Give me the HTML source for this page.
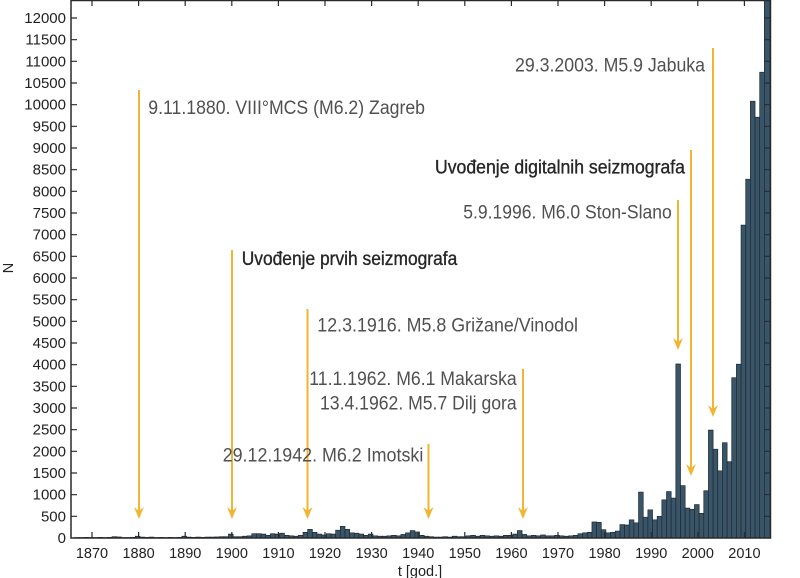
<!DOCTYPE html>
<html>
<head>
<meta charset="utf-8">
<style>
  html,body{margin:0;padding:0;background:#fff;}
  svg{display:block;}
  .ax{font-family:"Liberation Sans",Arial,sans-serif;font-size:15px;fill:#222;}
  .an{font-family:"Liberation Sans",Arial,sans-serif;font-size:19px;fill:#505050;}
  .ad{font-family:"Liberation Sans",Arial,sans-serif;font-size:19px;fill:#262626;stroke:#262626;stroke-width:0.35;}
</style>
</head>
<body>
<svg width="800" height="578" viewBox="0 0 800 578" xmlns="http://www.w3.org/2000/svg">
  <defs>
    <clipPath id="pa"><rect x="71" y="0" width="699" height="538"/></clipPath>
  </defs>
  <rect x="0" y="0" width="800" height="578" fill="#fff"/>

  <!-- bars -->
  <g clip-path="url(#pa)">
  <g transform="translate(88.67,538) scale(4.66,-0.0433333)" fill="#3a5468" stroke="#1d2a35" stroke-width="0.7">
    <rect vector-effect="non-scaling-stroke" x="-3" width="1" height="10"/>
    <rect vector-effect="non-scaling-stroke" x="-2" width="1" height="10"/>
    <rect vector-effect="non-scaling-stroke" x="-1" width="1" height="15"/>
    <rect vector-effect="non-scaling-stroke" x="0" width="1" height="10"/>
    <rect vector-effect="non-scaling-stroke" x="1" width="1" height="10"/>
    <rect vector-effect="non-scaling-stroke" x="2" width="1" height="15"/>
    <rect vector-effect="non-scaling-stroke" x="3" width="1" height="10"/>
    <rect vector-effect="non-scaling-stroke" x="4" width="1" height="15"/>
    <rect vector-effect="non-scaling-stroke" x="5" width="1" height="30"/>
    <rect vector-effect="non-scaling-stroke" x="6" width="1" height="25"/>
    <rect vector-effect="non-scaling-stroke" x="7" width="1" height="10"/>
    <rect vector-effect="non-scaling-stroke" x="8" width="1" height="10"/>
    <rect vector-effect="non-scaling-stroke" x="9" width="1" height="15"/>
    <rect vector-effect="non-scaling-stroke" x="10" width="1" height="40"/>
    <rect vector-effect="non-scaling-stroke" x="11" width="1" height="20"/>
    <rect vector-effect="non-scaling-stroke" x="12" width="1" height="15"/>
    <rect vector-effect="non-scaling-stroke" x="13" width="1" height="20"/>
    <rect vector-effect="non-scaling-stroke" x="14" width="1" height="10"/>
    <rect vector-effect="non-scaling-stroke" x="15" width="1" height="15"/>
    <rect vector-effect="non-scaling-stroke" x="16" width="1" height="10"/>
    <rect vector-effect="non-scaling-stroke" x="17" width="1" height="15"/>
    <rect vector-effect="non-scaling-stroke" x="18" width="1" height="10"/>
    <rect vector-effect="non-scaling-stroke" x="19" width="1" height="15"/>
    <rect vector-effect="non-scaling-stroke" x="20" width="1" height="40"/>
    <rect vector-effect="non-scaling-stroke" x="21" width="1" height="20"/>
    <rect vector-effect="non-scaling-stroke" x="22" width="1" height="15"/>
    <rect vector-effect="non-scaling-stroke" x="23" width="1" height="20"/>
    <rect vector-effect="non-scaling-stroke" x="24" width="1" height="15"/>
    <rect vector-effect="non-scaling-stroke" x="25" width="1" height="20"/>
    <rect vector-effect="non-scaling-stroke" x="26" width="1" height="20"/>
    <rect vector-effect="non-scaling-stroke" x="27" width="1" height="25"/>
    <rect vector-effect="non-scaling-stroke" x="28" width="1" height="30"/>
    <rect vector-effect="non-scaling-stroke" x="29" width="1" height="30"/>
    <rect vector-effect="non-scaling-stroke" x="30" width="1" height="90"/>
    <rect vector-effect="non-scaling-stroke" x="31" width="1" height="30"/>
    <rect vector-effect="non-scaling-stroke" x="32" width="1" height="30"/>
    <rect vector-effect="non-scaling-stroke" x="33" width="1" height="40"/>
    <rect vector-effect="non-scaling-stroke" x="34" width="1" height="50"/>
    <rect vector-effect="non-scaling-stroke" x="35" width="1" height="100"/>
    <rect vector-effect="non-scaling-stroke" x="36" width="1" height="100"/>
    <rect vector-effect="non-scaling-stroke" x="37" width="1" height="90"/>
    <rect vector-effect="non-scaling-stroke" x="38" width="1" height="60"/>
    <rect vector-effect="non-scaling-stroke" x="39" width="1" height="100"/>
    <rect vector-effect="non-scaling-stroke" x="40" width="1" height="90"/>
    <rect vector-effect="non-scaling-stroke" x="41" width="1" height="110"/>
    <rect vector-effect="non-scaling-stroke" x="42" width="1" height="60"/>
    <rect vector-effect="non-scaling-stroke" x="43" width="1" height="50"/>
    <rect vector-effect="non-scaling-stroke" x="44" width="1" height="40"/>
    <rect vector-effect="non-scaling-stroke" x="45" width="1" height="60"/>
    <rect vector-effect="non-scaling-stroke" x="46" width="1" height="130"/>
    <rect vector-effect="non-scaling-stroke" x="47" width="1" height="200"/>
    <rect vector-effect="non-scaling-stroke" x="48" width="1" height="130"/>
    <rect vector-effect="non-scaling-stroke" x="49" width="1" height="90"/>
    <rect vector-effect="non-scaling-stroke" x="50" width="1" height="70"/>
    <rect vector-effect="non-scaling-stroke" x="51" width="1" height="100"/>
    <rect vector-effect="non-scaling-stroke" x="52" width="1" height="90"/>
    <rect vector-effect="non-scaling-stroke" x="53" width="1" height="180"/>
    <rect vector-effect="non-scaling-stroke" x="54" width="1" height="270"/>
    <rect vector-effect="non-scaling-stroke" x="55" width="1" height="200"/>
    <rect vector-effect="non-scaling-stroke" x="56" width="1" height="120"/>
    <rect vector-effect="non-scaling-stroke" x="57" width="1" height="110"/>
    <rect vector-effect="non-scaling-stroke" x="58" width="1" height="90"/>
    <rect vector-effect="non-scaling-stroke" x="59" width="1" height="60"/>
    <rect vector-effect="non-scaling-stroke" x="60" width="1" height="90"/>
    <rect vector-effect="non-scaling-stroke" x="61" width="1" height="50"/>
    <rect vector-effect="non-scaling-stroke" x="62" width="1" height="40"/>
    <rect vector-effect="non-scaling-stroke" x="63" width="1" height="40"/>
    <rect vector-effect="non-scaling-stroke" x="64" width="1" height="50"/>
    <rect vector-effect="non-scaling-stroke" x="65" width="1" height="60"/>
    <rect vector-effect="non-scaling-stroke" x="66" width="1" height="50"/>
    <rect vector-effect="non-scaling-stroke" x="67" width="1" height="80"/>
    <rect vector-effect="non-scaling-stroke" x="68" width="1" height="120"/>
    <rect vector-effect="non-scaling-stroke" x="69" width="1" height="170"/>
    <rect vector-effect="non-scaling-stroke" x="70" width="1" height="140"/>
    <rect vector-effect="non-scaling-stroke" x="71" width="1" height="60"/>
    <rect vector-effect="non-scaling-stroke" x="72" width="1" height="40"/>
    <rect vector-effect="non-scaling-stroke" x="73" width="1" height="30"/>
    <rect vector-effect="non-scaling-stroke" x="74" width="1" height="20"/>
    <rect vector-effect="non-scaling-stroke" x="75" width="1" height="20"/>
    <rect vector-effect="non-scaling-stroke" x="76" width="1" height="30"/>
    <rect vector-effect="non-scaling-stroke" x="77" width="1" height="20"/>
    <rect vector-effect="non-scaling-stroke" x="78" width="1" height="40"/>
    <rect vector-effect="non-scaling-stroke" x="79" width="1" height="30"/>
    <rect vector-effect="non-scaling-stroke" x="80" width="1" height="30"/>
    <rect vector-effect="non-scaling-stroke" x="81" width="1" height="50"/>
    <rect vector-effect="non-scaling-stroke" x="82" width="1" height="60"/>
    <rect vector-effect="non-scaling-stroke" x="83" width="1" height="40"/>
    <rect vector-effect="non-scaling-stroke" x="84" width="1" height="60"/>
    <rect vector-effect="non-scaling-stroke" x="85" width="1" height="50"/>
    <rect vector-effect="non-scaling-stroke" x="86" width="1" height="40"/>
    <rect vector-effect="non-scaling-stroke" x="87" width="1" height="50"/>
    <rect vector-effect="non-scaling-stroke" x="88" width="1" height="40"/>
    <rect vector-effect="non-scaling-stroke" x="89" width="1" height="60"/>
    <rect vector-effect="non-scaling-stroke" x="90" width="1" height="60"/>
    <rect vector-effect="non-scaling-stroke" x="91" width="1" height="90"/>
    <rect vector-effect="non-scaling-stroke" x="92" width="1" height="170"/>
    <rect vector-effect="non-scaling-stroke" x="93" width="1" height="80"/>
    <rect vector-effect="non-scaling-stroke" x="94" width="1" height="50"/>
    <rect vector-effect="non-scaling-stroke" x="95" width="1" height="60"/>
    <rect vector-effect="non-scaling-stroke" x="96" width="1" height="50"/>
    <rect vector-effect="non-scaling-stroke" x="97" width="1" height="70"/>
    <rect vector-effect="non-scaling-stroke" x="98" width="1" height="50"/>
    <rect vector-effect="non-scaling-stroke" x="99" width="1" height="50"/>
    <rect vector-effect="non-scaling-stroke" x="100" width="1" height="60"/>
    <rect vector-effect="non-scaling-stroke" x="101" width="1" height="50"/>
    <rect vector-effect="non-scaling-stroke" x="102" width="1" height="40"/>
    <rect vector-effect="non-scaling-stroke" x="103" width="1" height="50"/>
    <rect vector-effect="non-scaling-stroke" x="104" width="1" height="60"/>
    <rect vector-effect="non-scaling-stroke" x="105" width="1" height="100"/>
    <rect vector-effect="non-scaling-stroke" x="106" width="1" height="120"/>
    <rect vector-effect="non-scaling-stroke" x="107" width="1" height="130"/>
    <rect vector-effect="non-scaling-stroke" x="108" width="1" height="370"/>
    <rect vector-effect="non-scaling-stroke" x="109" width="1" height="360"/>
    <rect vector-effect="non-scaling-stroke" x="110" width="1" height="190"/>
    <rect vector-effect="non-scaling-stroke" x="111" width="1" height="120"/>
    <rect vector-effect="non-scaling-stroke" x="112" width="1" height="130"/>
    <rect vector-effect="non-scaling-stroke" x="113" width="1" height="160"/>
    <rect vector-effect="non-scaling-stroke" x="114" width="1" height="310"/>
    <rect vector-effect="non-scaling-stroke" x="115" width="1" height="300"/>
    <rect vector-effect="non-scaling-stroke" x="116" width="1" height="420"/>
    <rect vector-effect="non-scaling-stroke" x="117" width="1" height="350"/>
    <rect vector-effect="non-scaling-stroke" x="118" width="1" height="1060"/>
    <rect vector-effect="non-scaling-stroke" x="119" width="1" height="480"/>
    <rect vector-effect="non-scaling-stroke" x="120" width="1" height="650"/>
    <rect vector-effect="non-scaling-stroke" x="121" width="1" height="420"/>
    <rect vector-effect="non-scaling-stroke" x="122" width="1" height="500"/>
    <rect vector-effect="non-scaling-stroke" x="123" width="1" height="880"/>
    <rect vector-effect="non-scaling-stroke" x="124" width="1" height="1070"/>
    <rect vector-effect="non-scaling-stroke" x="125" width="1" height="920"/>
    <rect vector-effect="non-scaling-stroke" x="126" width="1" height="4015"/>
    <rect vector-effect="non-scaling-stroke" x="127" width="1" height="1210"/>
    <rect vector-effect="non-scaling-stroke" x="128" width="1" height="690"/>
    <rect vector-effect="non-scaling-stroke" x="129" width="1" height="660"/>
    <rect vector-effect="non-scaling-stroke" x="130" width="1" height="770"/>
    <rect vector-effect="non-scaling-stroke" x="131" width="1" height="570"/>
    <rect vector-effect="non-scaling-stroke" x="132" width="1" height="1090"/>
    <rect vector-effect="non-scaling-stroke" x="133" width="1" height="2490"/>
    <rect vector-effect="non-scaling-stroke" x="134" width="1" height="2050"/>
    <rect vector-effect="non-scaling-stroke" x="135" width="1" height="1550"/>
    <rect vector-effect="non-scaling-stroke" x="136" width="1" height="2200"/>
    <rect vector-effect="non-scaling-stroke" x="137" width="1" height="1760"/>
    <rect vector-effect="non-scaling-stroke" x="138" width="1" height="3700"/>
    <rect vector-effect="non-scaling-stroke" x="139" width="1" height="4010"/>
    <rect vector-effect="non-scaling-stroke" x="140" width="1" height="7220"/>
    <rect vector-effect="non-scaling-stroke" x="141" width="1" height="8280"/>
    <rect vector-effect="non-scaling-stroke" x="142" width="1" height="10080"/>
    <rect vector-effect="non-scaling-stroke" x="143" width="1" height="9710"/>
    <rect vector-effect="non-scaling-stroke" x="144" width="1" height="10750"/>
    <rect vector-effect="non-scaling-stroke" x="145" width="1.2" height="12500"/>
  </g>
  </g>

  <!-- axes frame -->
  <g stroke="#2a2a2a" stroke-width="1.5" fill="none">
    <path d="M71,0.5 H770.5 V538 H71 Z"/>
  </g>
  <!-- ticks -->
  <g stroke="#2a2a2a" stroke-width="1.2" fill="none">
    <path d="M92,538v-6M138.6,538v-6M185.2,538v-6M231.8,538v-6M278.4,538v-6M325,538v-6M371.6,538v-6M418.2,538v-6M464.8,538v-6M511.4,538v-6M558,538v-6M604.6,538v-6M651.2,538v-6M697.8,538v-6M744.4,538v-6"/>
    <path d="M92,0v6M138.6,0v6M185.2,0v6M231.8,0v6M278.4,0v6M325,0v6M371.6,0v6M418.2,0v6M464.8,0v6M511.4,0v6M558,0v6M604.6,0v6M651.2,0v6M697.8,0v6M744.4,0v6"/>
    <path d="M71,516.33h6M71,494.67h6M71,473h6M71,451.33h6M71,429.67h6M71,408h6M71,386.33h6M71,364.67h6M71,343h6M71,321.33h6M71,299.67h6M71,278h6M71,256.33h6M71,234.67h6M71,213h6M71,191.33h6M71,169.67h6M71,148h6M71,126.33h6M71,104.67h6M71,83h6M71,61.33h6M71,39.67h6M71,18h6"/>
    <path d="M770,516.33h-6M770,494.67h-6M770,473h-6M770,451.33h-6M770,429.67h-6M770,408h-6M770,386.33h-6M770,364.67h-6M770,343h-6M770,321.33h-6M770,299.67h-6M770,278h-6M770,256.33h-6M770,234.67h-6M770,213h-6M770,191.33h-6M770,169.67h-6M770,148h-6M770,126.33h-6M770,104.67h-6M770,83h-6M770,61.33h-6M770,39.67h-6M770,18h-6"/>
  </g>

  <!-- y tick labels -->
  <g class="ax" text-anchor="end">
    <text x="66" y="543">0</text>
    <text x="66" y="521.33">500</text>
    <text x="66" y="499.67">1000</text>
    <text x="66" y="478">1500</text>
    <text x="66" y="456.33">2000</text>
    <text x="66" y="434.67">2500</text>
    <text x="66" y="413">3000</text>
    <text x="66" y="391.33">3500</text>
    <text x="66" y="369.67">4000</text>
    <text x="66" y="348">4500</text>
    <text x="66" y="326.33">5000</text>
    <text x="66" y="304.67">5500</text>
    <text x="66" y="283">6000</text>
    <text x="66" y="261.33">6500</text>
    <text x="66" y="239.67">7000</text>
    <text x="66" y="218">7500</text>
    <text x="66" y="196.33">8000</text>
    <text x="66" y="174.67">8500</text>
    <text x="66" y="153">9000</text>
    <text x="66" y="131.33">9500</text>
    <text x="66" y="109.67">10000</text>
    <text x="66" y="88">10500</text>
    <text x="66" y="66.33">11000</text>
    <text x="66" y="44.67">11500</text>
    <text x="66" y="23">12000</text>
  </g>
  <!-- x tick labels -->
  <g class="ax" text-anchor="middle" style="font-size:14.5px">
    <text x="92" y="558">1870</text>
    <text x="138.6" y="558">1880</text>
    <text x="185.2" y="558">1890</text>
    <text x="231.8" y="558">1900</text>
    <text x="278.4" y="558">1910</text>
    <text x="325" y="558">1920</text>
    <text x="371.6" y="558">1930</text>
    <text x="418.2" y="558">1940</text>
    <text x="464.8" y="558">1950</text>
    <text x="511.4" y="558">1960</text>
    <text x="558" y="558">1970</text>
    <text x="604.6" y="558">1980</text>
    <text x="651.2" y="558">1990</text>
    <text x="697.8" y="558">2000</text>
    <text x="744.4" y="558">2010</text>
  </g>
  <text class="ax" x="420" y="576" text-anchor="middle" style="font-size:14.5px">t [god.]</text>
  <text class="ax" x="0" y="0" text-anchor="middle" transform="translate(13,268) rotate(-90)" style="font-size:14.5px">N</text>

  <!-- arrows -->
  <g stroke="#f2b531" stroke-width="2" fill="none">
    <path d="M139,90V511"/>
    <path d="M232,250V511"/>
    <path d="M307.5,309V511"/>
    <path d="M428.5,444V511"/>
    <path d="M523,369V511"/>
    <path d="M678,200V342"/>
    <path d="M691,150V468"/>
    <path d="M713,48V409"/>
  </g>
  <g fill="#f2b531">
    <polygon points="139,519 134,507 139,511 144,507"/>
    <polygon points="232,519 227,507 232,511 237,507"/>
    <polygon points="307.5,519 302.5,507 307.5,511 312.5,507"/>
    <polygon points="428.5,519 423.5,507 428.5,511 433.5,507"/>
    <polygon points="523,519 518,507 523,511 528,507"/>
    <polygon points="678,350 673,338 678,342 683,338"/>
    <polygon points="691,476 686,464 691,468 696,464"/>
    <polygon points="713,417 708,405 713,409 718,405"/>
  </g>

  <!-- annotations -->
  <text class="an" x="148.3" y="114" textLength="276.7" lengthAdjust="spacingAndGlyphs">9.11.1880. VIII°MCS (M6.2) Zagreb</text>
  <text class="ad" x="241.7" y="265" textLength="215.6" lengthAdjust="spacingAndGlyphs">Uvođenje prvih seizmografa</text>
  <text class="an" x="317.3" y="331.5" textLength="260.7" lengthAdjust="spacingAndGlyphs">12.3.1916. M5.8 Grižane/Vinodol</text>
  <text class="an" x="309.3" y="385" textLength="207.4" lengthAdjust="spacingAndGlyphs">11.1.1962. M6.1 Makarska</text>
  <text class="an" x="320" y="409.3" textLength="196.7" lengthAdjust="spacingAndGlyphs">13.4.1962. M5.7 Dilj gora</text>
  <text class="an" x="222.7" y="461.7" textLength="200.6" lengthAdjust="spacingAndGlyphs">29.12.1942. M6.2 Imotski</text>
  <text class="ad" x="435" y="173.3" textLength="250" lengthAdjust="spacingAndGlyphs">Uvođenje digitalnih seizmografa</text>
  <text class="an" x="463.3" y="218.3" textLength="208.4" lengthAdjust="spacingAndGlyphs">5.9.1996. M6.0 Ston-Slano</text>
  <text class="an" x="515" y="71.7" textLength="190" lengthAdjust="spacingAndGlyphs">29.3.2003. M5.9 Jabuka</text>
</svg>
</body>
</html>
